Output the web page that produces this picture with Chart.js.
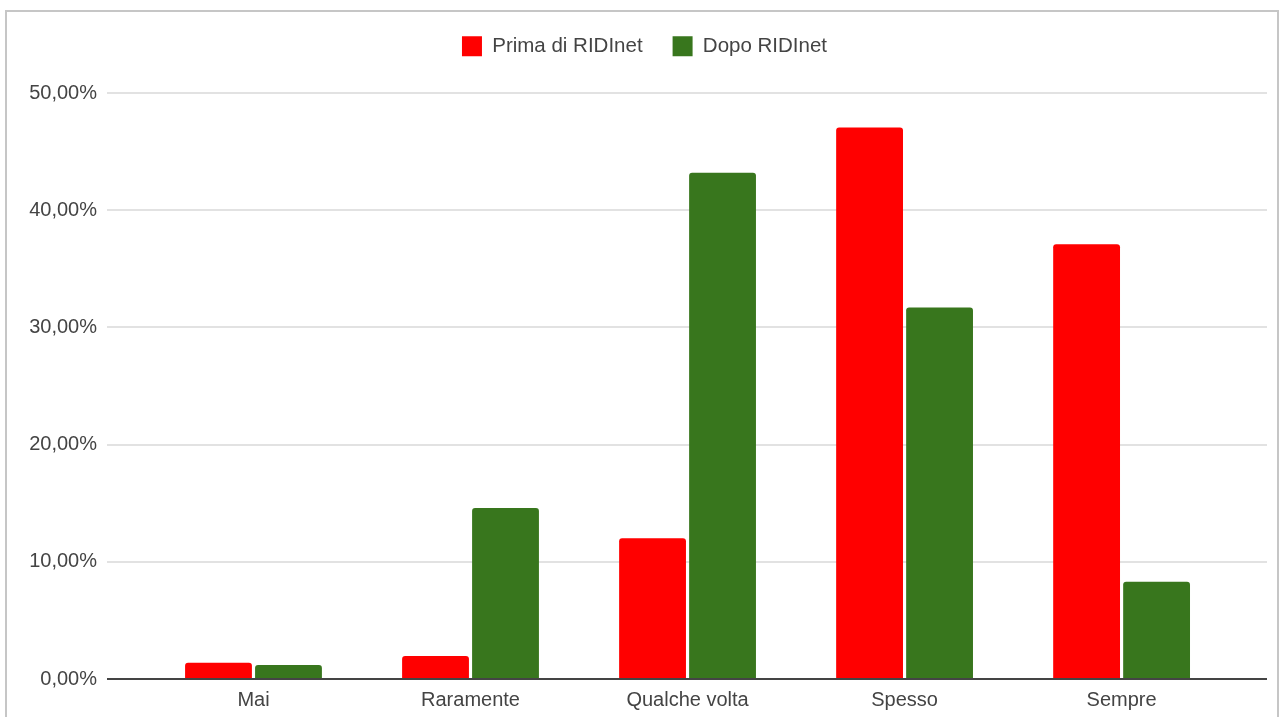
<!DOCTYPE html>
<html>
<head>
<meta charset="utf-8">
<script src="https://cdn.jsdelivr.net/npm/chart.js@4"></script>
<style>
  html,body{margin:0;padding:0;background:#fff;overflow:hidden;}
  #frame{position:absolute;left:5px;top:10px;width:1274px;height:740px;box-sizing:border-box;border:2px solid #c6c6c6;}
  #chart{position:absolute;left:0;top:0;}
</style>
</head>
<body>
<div id="frame"></div>
<canvas id="chart" width="1280" height="717"></canvas>
<script>
/* ---------- DATA ---------- */
const categories = ["Mai","Raramente","Qualche volta","Spesso","Sempre"];
const prima = [1.39, 1.96, 12.0, 47.06, 37.1];
const dopo  = [1.19, 14.6, 43.2, 31.7, 8.3];
const seriesNames = ["Prima di RIDInet","Dopo RIDInet"];
const yTicks = [0,10,20,30,40,50];

const txt = "#444";
const font = {family:"'Liberation Sans', Arial, sans-serif", size:20};

/* ---------- HELPERS ---------- */
const pts = arr => arr.map((v,i)=>({x:i, y:v}));
const pct = v => v.toFixed(2).replace(".", ",") + "%";

// extra space under the legend, and nudge it a bit to the right
const legendTweak = {
  id:"legendTweak",
  beforeInit(chart){
    const fit = chart.legend.fit;
    chart.legend.fit = function(){
      fit.bind(chart.legend)();
      this.height += 26.5;
    };
  },
  beforeDraw(chart){
    chart.legend.left += 11;
    chart.legend.right += 11;
  }
};

/* ---------- CHART ---------- */
new Chart(document.getElementById("chart"),{
  type:"bar",
  data:{
    datasets:[
      {label:seriesNames[0], data:pts(prima), backgroundColor:"#ff0000", borderRadius:3},
      {label:seriesNames[1], data:pts(dopo),  backgroundColor:"#38761d", borderRadius:3}
    ]
  },
  options:{
    responsive:false,
    animation:false,
    categoryPercentage:.645,
    barPercentage:.955,
    layout:{padding:{top:6,right:13,bottom:6,left:0}},
    plugins:{
      legend:{
        labels:{color:txt, font:{...font, size:20.5}, boxWidth:20, boxHeight:20, padding:30}
      },
      tooltip:{enabled:false}
    },
    scales:{
      x:{
        type:"linear",
        offset:false,
        min:-.675, max:4.67,
        afterFit:s=>{s.height = 32;},
        grid:{display:false, drawTicks:false},
        border:{display:false},
        ticks:{
          stepSize:1, includeBounds:false, autoSkip:false, maxRotation:0,
          padding:9, color:txt, font,
          callback:v=>Number.isInteger(v) ? categories[v] : undefined
        }
      },
      y:{
        min:0, max:50,
        afterFit:s=>{s.width = 107;},
        afterBuildTicks:s=>{s.ticks = yTicks.map(v=>({value:v}));},
        border:{display:false},
        grid:{
          drawTicks:false,
          lineWidth:2,
          color:c=>c.tick && c.tick.value===0 ? "#444" : "#e2e2e2"
        },
        ticks:{padding:10, color:txt, font, callback:v=>pct(v)}
      }
    }
  },
  plugins:[legendTweak]
});
</script>
</body>
</html>
